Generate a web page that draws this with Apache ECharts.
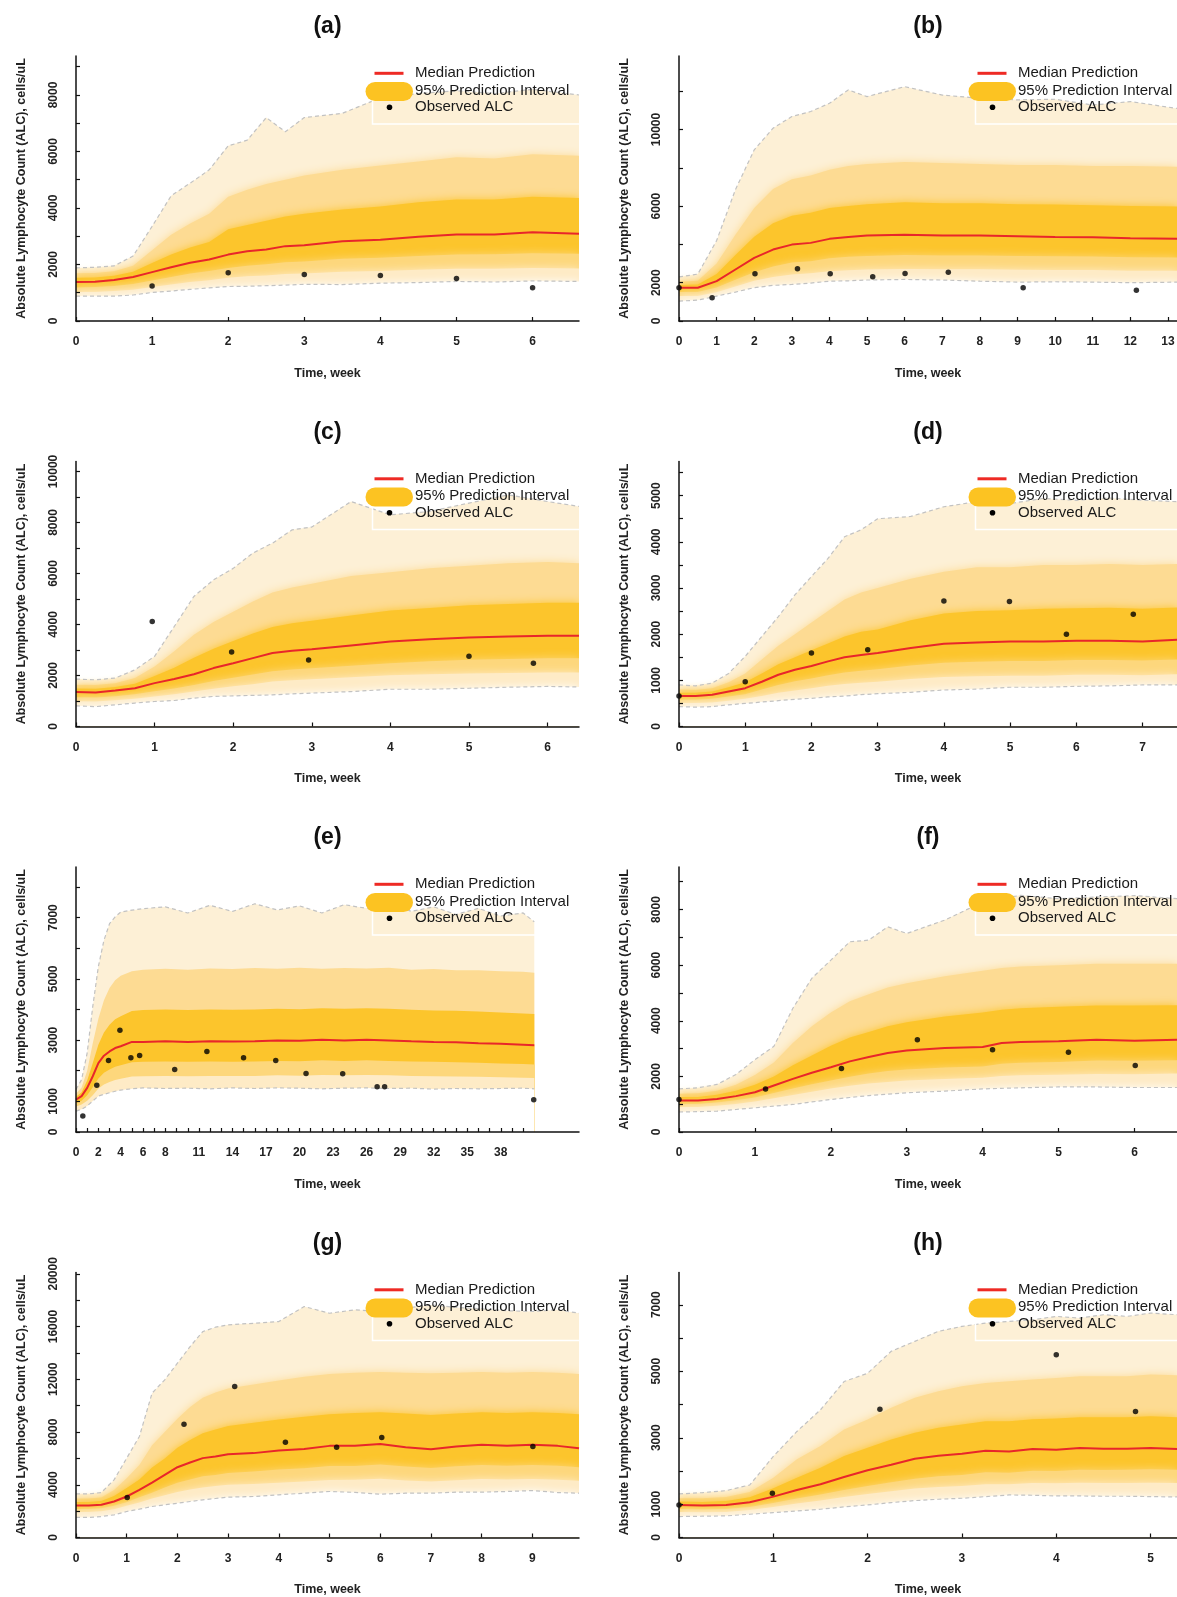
<!DOCTYPE html>
<html><head><meta charset="utf-8">
<script src="https://cdn.jsdelivr.net/npm/echarts@6/dist/echarts.min.js"></script>
<style>html,body{margin:0;padding:0;background:#fff}#c{width:1177px;height:1597px}</style>
</head><body><div id="c"></div>
<script>
// ---------- Panel (a) ----------
const aTime = [0,0.25,0.5,0.75,1,1.25,1.5,1.75,2,2.25,2.5,2.75,3,3.5,4,4.5,5,5.5,6,6.61];
const aMed  = [1380,1390,1450,1560,1730,1900,2060,2180,2350,2470,2530,2650,2680,2820,2880,2980,3060,3060,3140,3090];
const aHi95 = [1880,1900,1950,2300,3350,4430,4880,5350,6200,6400,7200,6700,7200,7350,7900,8050,8150,8050,8200,8000];
const aHi80 = [1690,1700,1760,1960,2500,3050,3450,3800,4400,4650,4850,5000,5150,5350,5500,5650,5800,5750,5900,5850];
const aHi50 = [1530,1540,1600,1740,2050,2350,2600,2800,3250,3400,3550,3700,3800,3950,4050,4200,4300,4300,4400,4350];
const aLo50 = [1190,1200,1240,1310,1430,1560,1680,1770,1880,1960,2010,2080,2110,2200,2240,2300,2350,2360,2400,2380];
const aLo80 = [1030,1030,1060,1110,1200,1290,1380,1440,1530,1580,1610,1660,1680,1740,1770,1810,1850,1850,1880,1860];
const aLo95 = [880,880,880,920,1010,1060,1120,1170,1220,1230,1250,1270,1300,1290,1340,1360,1400,1380,1420,1400];
const aObsT = [1,2,3,4,5,6];
const aObsV = [1240,1710,1650,1610,1500,1180];
const aXTicks = [0,1,2,3,4,5,6];
const aYTicks = [0,1000,2000,3000,4000,5000,6000,7000,8000,9000];
const aYLabels = [0,2000,4000,6000,8000];

// ---------- Panel (b) ----------
const bTime = [0,0.5,1,1.5,2,2.5,3,3.5,4,4.5,5,6,7,8,9,10,11,12,13.25];
const bMed  = [1740,1740,2080,2690,3300,3730,3990,4080,4290,4390,4460,4510,4460,4460,4430,4390,4380,4320,4300];
const bHi95 = [2300,2450,4200,6860,8940,10070,10680,10940,11370,12070,11720,12240,11800,11630,11550,11580,11280,11460,11100];
const bHi80 = [2050,2100,3000,4500,5900,6900,7400,7600,7900,8100,8200,8300,8250,8200,8150,8150,8100,8100,8050];
const bHi50 = [1880,1900,2450,3450,4400,5100,5500,5650,5900,6000,6100,6200,6150,6150,6100,6080,6050,6000,5980];
const bLo50 = [1520,1520,1750,2150,2550,2850,3050,3120,3280,3350,3400,3450,3420,3420,3400,3380,3370,3330,3320];
const bLo80 = [1300,1310,1500,1800,2100,2300,2430,2490,2600,2650,2690,2720,2700,2700,2680,2670,2660,2630,2620];
const bLo95 = [1040,1090,1300,1510,1740,1860,1910,1980,2080,2100,2140,2170,2140,2080,2030,2050,2030,2000,2030];
const bObsT = [0,0.88,2.02,3.15,4.02,5.15,6.01,7.16,9.15,12.16];
const bObsV = [1740,1220,2470,2730,2470,2310,2480,2550,1740,1610];
const bXTicks = [0,1,2,3,4,5,6,7,8,9,10,11,12,13];
const bYTicks = [0,2000,4000,6000,8000,10000,12000];
const bYLabels = [0,2000,6000,10000];

// ---------- Panel (c) ----------
const cTime = [0,0.25,0.5,0.75,1,1.25,1.5,1.75,2,2.25,2.5,2.75,3,3.5,4,4.5,5,5.5,6,6.4];
const cMed  = [1350,1330,1410,1500,1700,1860,2050,2290,2480,2680,2880,2970,3030,3180,3330,3420,3490,3530,3560,3560];
const cHi95 = [1860,1830,1900,2220,2750,3920,5100,5750,6200,6800,7190,7710,7820,8820,8300,8430,8760,9080,8820,8630];
const cHi80 = [1640,1630,1700,1900,2350,2950,3600,4100,4500,4900,5250,5450,5600,5900,6050,6200,6300,6400,6450,6400];
const cHi50 = [1490,1480,1550,1680,1980,2300,2700,3050,3350,3650,3900,4050,4150,4350,4550,4650,4750,4800,4850,4850];
const cLo50 = [1150,1140,1190,1260,1380,1490,1630,1780,1910,2040,2170,2230,2280,2380,2480,2560,2620,2650,2680,2680];
const cLo80 = [990,980,1030,1090,1180,1260,1370,1480,1580,1660,1760,1810,1850,1930,2010,2050,2080,2100,2120,2120];
const cLo95 = [810,780,850,920,980,1020,1110,1180,1200,1220,1240,1280,1310,1370,1460,1460,1500,1540,1570,1550];
const cObsT = [0.97,1.98,2.96,5.0,5.82];
const cObsV = [4120,2920,2610,2750,2480];
const cXTicks = [0,1,2,3,4,5,6];
const cYTicks = [0,1000,2000,3000,4000,5000,6000,7000,8000,9000,10000];
const cYLabels = [0,2000,4000,6000,8000,10000];

// ---------- Panel (d) ----------
const dTime = [0,0.25,0.5,0.75,1,1.25,1.5,1.75,2,2.25,2.5,2.75,3,3.5,4,4.5,5,5.5,6,6.5,7,7.52];
const dMed  = [660,660,690,760,830,970,1120,1230,1310,1410,1500,1550,1590,1700,1790,1820,1840,1840,1860,1860,1840,1880];
const dHi95 = [900,880,940,1150,1520,1950,2380,2850,3250,3640,4110,4260,4500,4550,4760,4870,4830,4940,4900,4950,4900,4870];
const dHi80 = [800,790,830,960,1150,1450,1750,2000,2250,2500,2750,2900,3000,3200,3350,3450,3450,3500,3500,3520,3500,3520];
const dHi50 = [730,730,760,850,960,1150,1350,1500,1650,1800,1950,2050,2100,2300,2450,2500,2520,2550,2560,2570,2550,2580];
const dLo50 = [580,580,600,650,700,800,900,980,1040,1110,1170,1210,1240,1320,1380,1400,1420,1420,1440,1440,1430,1450];
const dLo80 = [510,510,520,560,600,660,730,780,830,880,920,950,970,1030,1070,1090,1100,1100,1120,1120,1110,1130];
const dLo95 = [430,420,430,470,500,530,560,590,610,640,660,690,710,740,790,810,850,850,870,880,900,900];
const dObsT = [0,1.0,2.0,2.85,4.0,4.99,5.85,6.86];
const dObsV = [660,970,1590,1660,2720,2710,2000,2430];
const dXTicks = [0,1,2,3,4,5,6,7];
const dYTicks = [0,500,1000,1500,2000,2500,3000,3500,4000,4500,5000,5500];
const dYLabels = [0,1000,2000,3000,4000,5000];

// ---------- Panel (e) ----------
const eTime = [0,0.5,1,1.5,2,2.5,3,3.5,4,5,6,8,10,12,14,16,18,20,22,24,26,28,30,32,34,36,38,40,41];
const eMed  = [1060,1170,1440,1820,2250,2490,2630,2740,2800,2940,2940,2960,2940,2960,2950,2960,2990,2980,3010,2990,3010,2990,2960,2940,2930,2900,2880,2850,2830];
const eHi95 = [1390,1710,2580,4100,5400,6260,6800,7020,7180,7240,7290,7350,7150,7400,7200,7450,7250,7380,7150,7420,7300,7480,7200,7350,7100,7300,7050,7150,6860];
const eHi80 = [1250,1450,2000,2900,3700,4300,4700,4950,5100,5250,5300,5330,5300,5340,5320,5350,5330,5360,5330,5350,5340,5360,5300,5320,5280,5280,5250,5230,5200];
const eHi50 = [1150,1300,1680,2250,2850,3250,3500,3680,3780,3950,3980,4000,3980,4000,3990,4000,4020,4010,4040,4020,4040,4020,3990,3970,3960,3930,3900,3870,3850];
const eLo50 = [940,1020,1200,1460,1750,1930,2040,2130,2180,2280,2290,2300,2290,2300,2290,2300,2320,2310,2340,2320,2340,2320,2300,2290,2280,2260,2240,2220,2200];
const eLo80 = [830,900,1020,1200,1420,1550,1630,1700,1740,1810,1820,1830,1820,1830,1830,1830,1850,1840,1860,1850,1860,1850,1830,1820,1810,1800,1790,1770,1760];
const eLo95 = [680,740,850,1010,1170,1230,1280,1330,1370,1410,1440,1420,1430,1410,1440,1420,1440,1430,1410,1430,1440,1420,1430,1400,1420,1410,1420,1430,1410];
const eObsT = [0.61,1.86,2.91,3.93,4.91,5.69,8.83,11.71,14.99,17.87,20.58,23.86,26.94,27.61,40.95];
const eObsV = [520,1530,2330,3320,2420,2500,2040,2630,2420,2330,1910,1900,1480,1480,1050];
const eXTicks = [0,1,2,3,4,5,6,7,8,9,10,11,12,13,14,15,16,17,18,19,20,21,22,23,24,25,26,27,28,29,30,31,32,33,34,35,36,37,38,39,40];
const eXLabels = [0,2,4,6,8,11,14,17,20,23,26,29,32,35,38];
const eYTicks = [0,1000,2000,3000,4000,5000,6000,7000,8000];
const eYLabels = [0,1000,3000,5000,7000];

// ---------- Panel (f) ----------
const fTime = [0,0.25,0.5,0.75,1,1.25,1.5,1.75,2,2.25,2.5,2.75,3,3.5,4,4.25,4.5,5,5.5,6,6.56];
const fMed  = [1130,1130,1190,1290,1430,1670,1910,2130,2330,2540,2700,2840,2930,3020,3060,3200,3240,3260,3320,3280,3320];
const fHi95 = [1550,1590,1710,2070,2600,3080,4450,5530,6180,6840,6900,7380,7140,7620,8270,8400,8510,8390,8450,8500,8390];
const fHi80 = [1380,1390,1480,1700,2050,2500,3200,3800,4300,4700,4950,5200,5350,5600,5800,5900,5950,6000,6050,6050,6050];
const fHi50 = [1260,1260,1340,1480,1700,2000,2400,2750,3100,3400,3600,3800,3950,4150,4300,4400,4450,4500,4550,4550,4560];
const fLo50 = [1010,1010,1060,1140,1240,1400,1560,1720,1850,1990,2100,2190,2250,2320,2360,2450,2490,2520,2570,2560,2580];
const fLo80 = [900,900,940,1010,1100,1210,1330,1450,1560,1660,1740,1800,1850,1910,1950,2010,2040,2060,2090,2080,2100];
const fLo95 = [720,730,750,810,870,930,990,1080,1170,1240,1310,1360,1410,1470,1550,1570,1590,1620,1620,1600,1600];
const fObsT = [0,1.14,2.14,3.14,4.13,5.13,6.01];
const fObsV = [1170,1550,2280,3320,2960,2870,2390];
const fXTicks = [0,1,2,3,4,5,6];
const fYTicks = [0,1000,2000,3000,4000,5000,6000,7000,8000,9000];
const fYLabels = [0,2000,4000,6000,8000];

// ---------- Panel (g) ----------
const gTime = [0,0.25,0.5,0.75,1,1.25,1.5,1.75,2,2.25,2.5,2.75,3,3.5,4,4.5,5,5.5,6,6.5,7,7.5,8,8.5,9,9.5,9.92];
const gMed  = [2430,2430,2480,2730,3110,3610,4170,4750,5330,5690,6020,6140,6320,6400,6600,6720,6950,6950,7100,6850,6700,6900,7030,6950,7030,6950,6770];
const gHi95 = [3310,3310,3410,4370,6020,7660,10950,11960,13220,14480,15620,15950,16130,16250,16380,17520,17010,17270,17140,17400,17640,17450,17350,17200,17140,17280,17010];
const gHi80 = [2950,2950,3030,3600,4500,5500,7000,8000,9000,9900,10600,11000,11300,11600,11900,12200,12400,12500,12550,12500,12450,12500,12550,12500,12550,12500,12400];
const gHi50 = [2700,2700,2760,3150,3750,4400,5300,6000,6800,7400,7900,8200,8450,8700,8950,9150,9350,9450,9500,9400,9300,9400,9500,9450,9500,9450,9350];
const gLo50 = [2170,2170,2220,2400,2680,3050,3400,3800,4150,4400,4650,4750,4900,5000,5150,5250,5420,5430,5530,5380,5280,5400,5500,5450,5500,5440,5330];
const gLo80 = [1940,1940,1990,2150,2400,2650,2950,3200,3450,3650,3800,3900,4000,4050,4150,4250,4370,4380,4460,4330,4250,4350,4430,4390,4430,4380,4300];
const gLo95 = [1520,1520,1590,1720,1970,2150,2350,2480,2600,2730,2860,2960,3060,3110,3240,3360,3490,3420,3290,3360,3360,3440,3440,3490,3560,3410,3360];
const gObsT = [1.01,2.13,3.13,4.13,5.14,6.03,9.01];
const gObsV = [3030,8590,11450,7230,6850,7580,6900];
const gXTicks = [0,1,2,3,4,5,6,7,8,9];
const gYTicks = [0,2000,4000,6000,8000,10000,12000,14000,16000,18000,20000];
const gYLabels = [0,4000,8000,12000,16000,20000];

// ---------- Panel (h) ----------
const hTime = [0,0.25,0.5,0.75,1,1.25,1.5,1.75,2,2.25,2.5,2.75,3,3.25,3.5,3.75,4,4.25,4.5,4.75,5,5.28];
const hMed  = [980,960,980,1060,1230,1430,1600,1820,2020,2190,2370,2460,2520,2610,2590,2660,2640,2690,2670,2670,2690,2660];
const hHi95 = [1310,1350,1410,1580,2440,3190,3840,4690,4940,5600,5900,6200,6350,6450,6500,6550,6650,6600,6700,6650,6750,6700];
const hHi80 = [1180,1180,1220,1370,1800,2350,2750,3250,3550,3900,4200,4400,4550,4650,4700,4750,4800,4850,4850,4850,4900,4880];
const hHi50 = [1080,1070,1100,1210,1480,1800,2100,2450,2700,2950,3150,3300,3400,3500,3500,3560,3580,3620,3620,3620,3650,3620];
const hLo50 = [860,840,860,920,1040,1170,1290,1430,1550,1660,1770,1840,1880,1960,1950,2010,2000,2040,2030,2040,2050,2040];
const hLo80 = [770,760,770,830,920,1020,1110,1220,1310,1390,1470,1520,1550,1600,1600,1640,1630,1650,1640,1640,1650,1640];
const hLo95 = [630,640,650,700,750,800,850,920,980,1050,1110,1150,1180,1230,1280,1270,1250,1250,1240,1240,1230,1220];
const hObsT = [0,0.99,2.13,4.0,4.84];
const hObsV = [980,1330,3860,5500,3790];
const hXTicks = [0,1,2,3,4,5];
const hYTicks = [0,1000,2000,3000,4000,5000,6000,7000];
const hYLabels = [0,1000,3000,5000,7000];

const panelTitles = ['(a)','(b)','(c)','(d)','(e)','(f)','(g)','(h)'];
const legendLabels = ['Median Prediction','95% Prediction Interval','Observed ALC'];
const xName = 'Time, week';
const yName = 'Absolute Lymphocyte Count (ALC), cells/uL';

// ---------- assembly ----------
const panels = [
  {t:aTime,med:aMed,hi95:aHi95,hi80:aHi80,hi50:aHi50,lo50:aLo50,lo80:aLo80,lo95:aLo95,oT:aObsT,oV:aObsV,xT:aXTicks,xL:aXTicks,yT:aYTicks,yL:aYLabels,xMax:6.61,yMax:9380,soft:true},
  {t:bTime,med:bMed,hi95:bHi95,hi80:bHi80,hi50:bHi50,lo50:bLo50,lo80:bLo80,lo95:bLo95,oT:bObsT,oV:bObsV,xT:bXTicks,xL:bXTicks,yT:bYTicks,yL:bYLabels,xMax:13.24,yMax:13840,soft:true},
  {t:cTime,med:cMed,hi95:cHi95,hi80:cHi80,hi50:cHi50,lo50:cLo50,lo80:cLo80,lo95:cLo95,oT:cObsT,oV:cObsV,xT:cXTicks,xL:cXTicks,yT:cYTicks,yL:cYLabels,xMax:6.4,yMax:10390,soft:true},
  {t:dTime,med:dMed,hi95:dHi95,hi80:dHi80,hi50:dHi50,lo50:dLo50,lo80:dLo80,lo95:dLo95,oT:dObsT,oV:dObsV,xT:dXTicks,xL:dXTicks,yT:dYTicks,yL:dYLabels,xMax:7.52,yMax:5740,soft:true},
  {t:eTime,med:eMed,hi95:eHi95,hi80:eHi80,hi50:eHi50,lo50:eLo50,lo80:eLo80,lo95:eLo95,oT:eObsT,oV:eObsV,xT:eXTicks,xL:eXLabels,yT:eYTicks,yL:eYLabels,xMax:45,yMax:8650,soft:false},
  {t:fTime,med:fMed,hi95:fHi95,hi80:fHi80,hi50:fHi50,lo50:fLo50,lo80:fLo80,lo95:fLo95,oT:fObsT,oV:fObsV,xT:fXTicks,xL:fXTicks,yT:fYTicks,yL:fYLabels,xMax:6.56,yMax:9530,soft:true},
  {t:gTime,med:gMed,hi95:gHi95,hi80:gHi80,hi50:gHi50,lo50:gLo50,lo80:gLo80,lo95:gLo95,oT:gObsT,oV:gObsV,xT:gXTicks,xL:gXTicks,yT:gYTicks,yL:gYLabels,xMax:9.92,yMax:20100,soft:true},
  {t:hTime,med:hMed,hi95:hHi95,hi80:hHi80,hi50:hHi50,lo50:hLo50,lo80:hLo80,lo95:hLo95,oT:hObsT,oV:hObsV,xT:hXTicks,xL:hXTicks,yT:hYTicks,yL:hYLabels,xMax:5.28,yMax:7970,soft:true}
];

const FONT = '"Liberation Sans", Arial, Helvetica, sans-serif';
const colLeft = [76, 679], colWidth = [503, 498];
const rowTop = [56, 461.5, 867, 1272.5], plotH = 265;
const GOLD = '#fcc322';
const fillSpec = [
  ['hi95', '#fdf0d6', 0],
  ['hi80', '#fddb93', 8],
  ['hi50', '#fcc52c', 8],
  ['med',  '#fcc52c', 0],
  ['lo50', '#fdd77c', 8],
  ['lo80', '#feebc6', 8],
  ['lo95', '#ffffff', 8]
];

const grid = [], xAxis = [], yAxis = [], series = [], graphic = [];
const pair = (t, v) => t.map((x, i) => [x, v[i]]);
const plain = v => String(v);

panels.forEach((p, i) => {
  const col = i % 2, row = Math.floor(i / 2);
  const gl = colLeft[col], gt = rowTop[row], gw = colWidth[col];
  grid.push({left: gl, top: gt, width: gw, height: plotH, containLabel: false, outerBoundsMode: 'none'});
  const txt = {color: '#222', fontFamily: FONT, fontWeight: 'bold', fontSize: 12};
  xAxis.push({
    type: 'value', gridIndex: i, min: 0, max: p.xMax, z: 10,
    axisLine: {show: true, onZero: false, lineStyle: {color: '#111', width: 1.5}},
    axisTick: {show: true, inside: true, length: 4, customValues: p.xT, lineStyle: {color: '#111', width: 1.2}},
    axisLabel: Object.assign({show: true, customValues: p.xL, margin: 15, hideOverlap: false, formatter: plain}, txt),
    splitLine: {show: false},
    name: xName, nameLocation: 'middle', nameGap: 46,
    nameTextStyle: {color: '#222', fontFamily: FONT, fontWeight: 'bold', fontSize: 12.5}
  });
  yAxis.push({
    type: 'value', gridIndex: i, min: 0, max: p.yMax, z: 10,
    axisLine: {show: true, onZero: false, lineStyle: {color: '#111', width: 1.5}},
    axisTick: {show: true, inside: true, length: 4, customValues: p.yT, lineStyle: {color: '#111', width: 1.2}},
    axisLabel: Object.assign({show: true, customValues: p.yL, rotate: 90, margin: 16, hideOverlap: false, formatter: plain}, txt),
    splitLine: {show: false},
    name: yName, nameLocation: 'middle', nameGap: 48, nameRotate: 90,
    nameTextStyle: {color: '#222', fontFamily: FONT, fontWeight: 'bold', fontSize: 12.5}
  });
  fillSpec.forEach(([k, c, blur]) => {
    series.push({
      type: 'line', xAxisIndex: i, yAxisIndex: i, data: pair(p.t, p[k]),
      symbol: 'none', showSymbol: false, silent: true, clip: true, z: 2,
      lineStyle: {width: 0, opacity: 0},
      areaStyle: {color: c, opacity: 1, shadowBlur: p.soft ? blur : 0, shadowColor: c}
    });
  });
  ['hi95', 'lo95'].forEach(k => {
    series.push({
      type: 'line', xAxisIndex: i, yAxisIndex: i, data: pair(p.t, p[k]),
      symbol: 'none', showSymbol: false, silent: true, clip: true, z: 3,
      lineStyle: {color: '#c2c2c2', width: 1.2, type: [4, 3]}
    });
  });
  series.push({
    type: 'line', xAxisIndex: i, yAxisIndex: i, data: pair(p.t, p.med),
    symbol: 'none', showSymbol: false, silent: true, clip: true, z: 4,
    lineStyle: {color: '#e8262a', width: 2}
  });
  series.push({
    type: 'scatter', xAxisIndex: i, yAxisIndex: i, data: pair(p.oT, p.oV),
    symbol: 'circle', symbolSize: 5.5, silent: true, z: 5,
    itemStyle: {color: '#000'}
  });

  // panel title
  graphic.push({type: 'text', x: gl + gw / 2, y: gt - 29, z: 100,
    style: {text: panelTitles[i], fill: '#111', font: 'bold 23px ' + FONT, textAlign: 'center', textVerticalAlign: 'middle'}});
  // legend
  graphic.push({type: 'rect', z: 100, shape: {x: gl + 296.5, y: gt + 1, width: 220, height: 67},
    style: {fill: null, stroke: '#ffffff', lineWidth: 1.5}});
  graphic.push({type: 'line', z: 101, shape: {x1: gl + 298.5, y1: gt + 17.3, x2: gl + 327.5, y2: gt + 17.3},
    style: {stroke: '#ee2a24', lineWidth: 3}});
  graphic.push({type: 'rect', z: 101, shape: {x: gl + 289.5, y: gt + 26, width: 47.5, height: 19, r: 9.5},
    style: {fill: GOLD}});
  graphic.push({type: 'circle', z: 101, shape: {cx: gl + 313.5, cy: gt + 51.3, r: 2.8},
    style: {fill: '#000'}});
  legendLabels.forEach((s, j) => {
    graphic.push({type: 'text', z: 101, x: gl + 339, y: gt + [17.3, 34.5, 51.3][j],
      style: {text: s, fill: '#1a1a1a', font: '15px ' + FONT, textAlign: 'left', textVerticalAlign: 'middle'}});
  });
});

const chart = echarts.init(document.getElementById('c'), null, {renderer: 'canvas', width: 1177, height: 1597});
chart.setOption({
  animation: false,
  backgroundColor: '#ffffff',
  grid, xAxis, yAxis, series, graphic
});
</script></body></html>
